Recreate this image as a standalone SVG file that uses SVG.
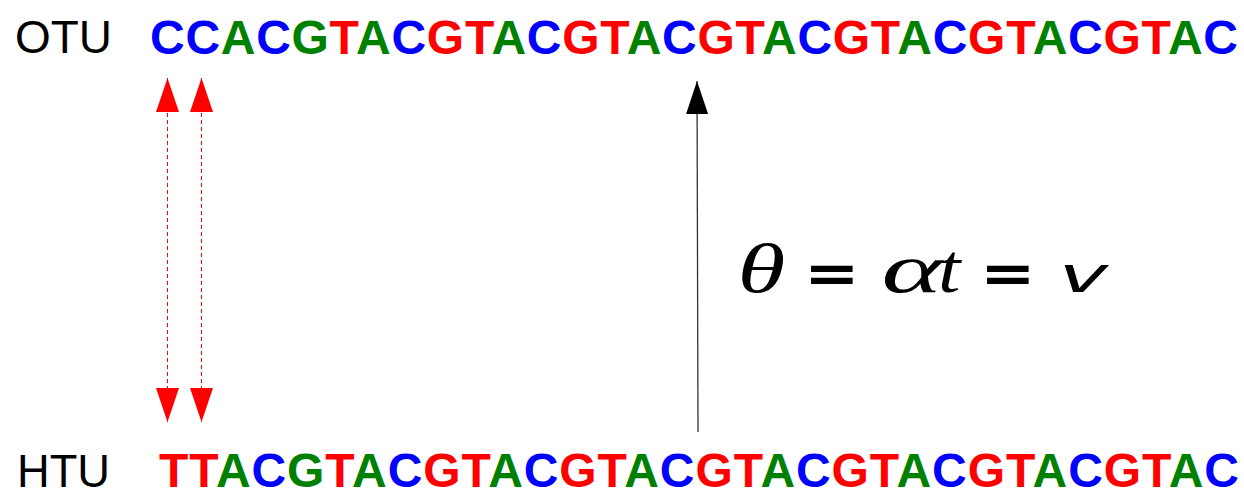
<svg xmlns="http://www.w3.org/2000/svg" width="1244" height="492" viewBox="0 0 1244 492">
<style>
.seq{font-family:"Liberation Sans",Arial,sans-serif;font-weight:bold;font-size:48px}
.lbl{font-family:"Liberation Sans",Arial,sans-serif;font-size:47px;fill:#000}
.b{fill:#0000ff}.g{fill:#008000}.r{fill:#ff0000}
.math{font-family:"Liberation Serif","Times New Roman",serif;font-style:italic;font-size:70px;fill:#000}
.eq{font-family:"DejaVu Sans",sans-serif;font-weight:bold;font-size:54px;fill:#000}
.msans{font-family:"DejaVu Sans",sans-serif;font-style:italic;font-size:50px;fill:#000}
.dash{stroke:#ff0000;stroke-width:1;stroke-dasharray:4 3;fill:none}
</style>
<defs>
<marker id="redHead" markerUnits="userSpaceOnUse" markerWidth="34" markerHeight="23" refX="34" refY="11.5" orient="auto-start-reverse" viewBox="0 0 34 23">
<path d="M0,0 L34,11.5 L0,23 z" fill="#ff0000"/>
</marker>
<marker id="blackHead" markerUnits="userSpaceOnUse" markerWidth="33" markerHeight="22" refX="33" refY="11" orient="auto" viewBox="0 0 33 22">
<path d="M0,0 L33,11 L0,22 z" fill="#000"/>
</marker>
</defs>
<rect width="1244" height="492" fill="#fff"/>
<g id="otu">
<text class="lbl" x="15" y="53" textLength="97" lengthAdjust="spacingAndGlyphs">OTU</text>
<text class="seq" x="150" y="54" textLength="1088" lengthAdjust="spacing"><tspan class="b">C</tspan><tspan class="b">C</tspan><tspan class="g">A</tspan><tspan class="b">C</tspan><tspan class="g">G</tspan><tspan class="r">T</tspan><tspan class="g">A</tspan><tspan class="b">C</tspan><tspan class="r">G</tspan><tspan class="r">T</tspan><tspan class="g">A</tspan><tspan class="b">C</tspan><tspan class="r">G</tspan><tspan class="r">T</tspan><tspan class="g">A</tspan><tspan class="b">C</tspan><tspan class="r">G</tspan><tspan class="r">T</tspan><tspan class="g">A</tspan><tspan class="b">C</tspan><tspan class="r">G</tspan><tspan class="r">T</tspan><tspan class="g">A</tspan><tspan class="b">C</tspan><tspan class="r">G</tspan><tspan class="r">T</tspan><tspan class="g">A</tspan><tspan class="b">C</tspan><tspan class="r">G</tspan><tspan class="r">T</tspan><tspan class="g">A</tspan><tspan class="b">C</tspan></text>
</g>
<g id="htu">
<text class="lbl" x="17" y="486.5" textLength="93" lengthAdjust="spacingAndGlyphs">HTU</text>
<text class="seq" x="159" y="486.5" textLength="1080" lengthAdjust="spacing"><tspan class="r">T</tspan><tspan class="r">T</tspan><tspan class="g">A</tspan><tspan class="b">C</tspan><tspan class="g">G</tspan><tspan class="r">T</tspan><tspan class="g">A</tspan><tspan class="b">C</tspan><tspan class="r">G</tspan><tspan class="r">T</tspan><tspan class="g">A</tspan><tspan class="b">C</tspan><tspan class="r">G</tspan><tspan class="r">T</tspan><tspan class="g">A</tspan><tspan class="b">C</tspan><tspan class="r">G</tspan><tspan class="r">T</tspan><tspan class="g">A</tspan><tspan class="b">C</tspan><tspan class="r">G</tspan><tspan class="r">T</tspan><tspan class="g">A</tspan><tspan class="b">C</tspan><tspan class="r">G</tspan><tspan class="r">T</tspan><tspan class="g">A</tspan><tspan class="b">C</tspan><tspan class="r">G</tspan><tspan class="r">T</tspan><tspan class="g">A</tspan><tspan class="b">C</tspan></text>
</g>
<g id="formula">
<text class="math" transform="translate(737.4,292) scale(1.39,1)">θ</text>
<text class="eq" transform="translate(804,292) scale(1.23,1)">=</text>
<text class="math" transform="translate(881.5,292) scale(1.65,1)">α</text>
<text class="math" transform="translate(938,292) scale(1.15,1)">t</text>
<text class="eq" transform="translate(980,292) scale(1.23,1)">=</text>
<text class="msans" transform="translate(1058.7,292) scale(1.67,1)">v</text>
</g>
<g id="connectors">
<line class="dash" x1="167.5" y1="78" x2="167.5" y2="422" marker-start="url(#redHead)" marker-end="url(#redHead)"/>
<line class="dash" x1="201.5" y1="78" x2="201.5" y2="422" marker-start="url(#redHead)" marker-end="url(#redHead)"/>
<line x1="698" y1="432" x2="697" y2="81" stroke="#333" stroke-width="1.3" marker-end="url(#blackHead)"/>
</g>
</svg>
